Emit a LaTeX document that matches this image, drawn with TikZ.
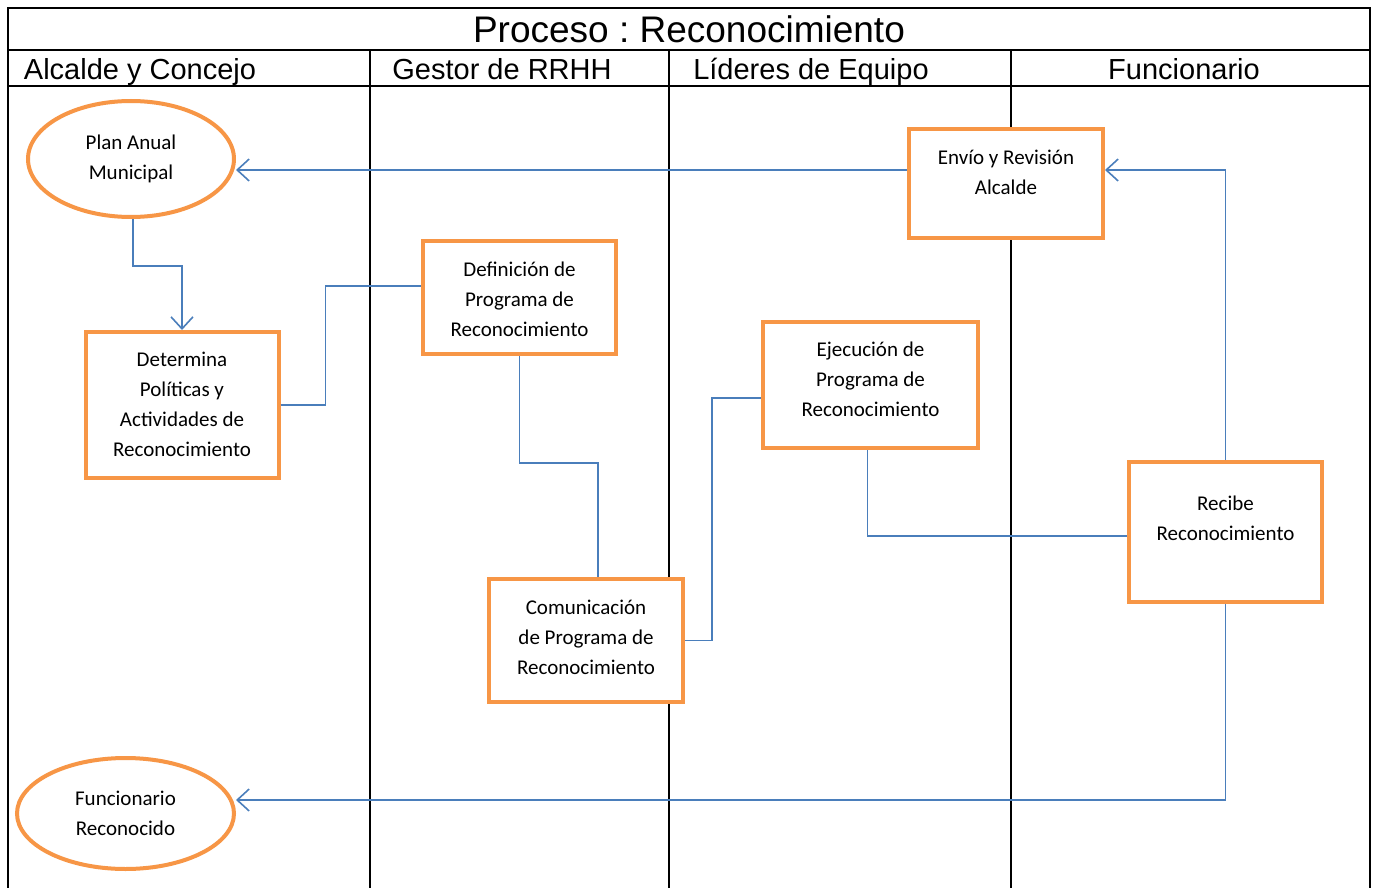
\documentclass[tikz,border=0pt]{standalone}
\usepackage{fontspec}
\setmainfont{Carlito}
\newfontfamily\arialf{Liberation Sans}
\usetikzlibrary{shapes.geometric,arrows.meta}
\definecolor{orng}{HTML}{F79646}
\definecolor{conncol}{HTML}{4A7EBB}
\tikzset{
  frame/.style={line width=2pt,black},
  box/.style={draw=orng,line width=4pt,rectangle,inner sep=0pt,fill=white},
  oval/.style={draw=orng,line width=4pt,ellipse,inner sep=0pt,fill=white,align=center,font=\fontsize{21}{30}\selectfont},
  txt/.style={align=center,font=\fontsize{21}{30}\selectfont,inner sep=0pt},
  hdr/.style={font=\arialf\fontsize{29}{34}\selectfont,inner sep=0pt,anchor=base},
  conn/.style={draw=conncol,line width=1.6pt},
  arr/.style={-{Straight Barb[length=12pt,width=22pt,line width=1.6pt]}}
}
\begin{document}
\frenchspacing
\begin{tikzpicture}[x=1pt,y=-1pt]
\useasboundingbox (0,0) rectangle (1374,888);
% frame
\draw[frame] (8,888) -- (8,8) -- (1370,8) -- (1370,888);
\draw[frame] (8,50) -- (1370,50);
\draw[frame] (8,86) -- (1370,86);
\draw[frame] (370,50) -- (370,888);
\draw[frame] (669,50) -- (669,888);
\draw[frame] (1011,50) -- (1011,888);
\node[font=\arialf\fontsize{37}{42}\selectfont,inner sep=0pt,anchor=base] (title) at (689,43) {Proceso : Reconocimiento};
\node[hdr] (h1) at (140,80) {Alcalde y Concejo};
\node[hdr] (h2) at (502,80) {Gestor de RRHH};
\node[hdr] (h3) at (811,80) {Líderes de Equipo};
\node[hdr] (h4) at (1184,80) {Funcionario};
% nodes
\node[oval,minimum width=206,minimum height=116] (plan) at (131,159) {Plan Anual\\Municipal};
\node[oval,minimum width=217,minimum height=111] (fun) at (125.5,813.5) {Funcionario\\Reconocido};
\node[box,minimum width=193,minimum height=146] (det) at (182,405) {};
\node[box,minimum width=193,minimum height=113] (def) at (519.5,297.5) {};
\node[box,minimum width=194,minimum height=123] (com) at (586,640.5) {};
\node[box,minimum width=215,minimum height=126] (eje) at (870.5,385) {};
\node[box,minimum width=194,minimum height=109] (env) at (1006,183.5) {};
\node[box,minimum width=193,minimum height=140] (rec) at (1225.5,532) {};
\node[txt] (tdet) at (182,404) {Determina\\Políticas y\\Actividades de\\Reconocimiento};
\node[txt] (tdef) at (519.5,299) {Definición de\\Programa de\\Reconocimiento};
\node[txt] (tcom) at (586,637) {Comunicación\\de Programa de\\Reconocimiento};
\node[txt] (teje) at (870.5,379) {Ejecución de\\Programa de\\Reconocimiento};
\node[txt] (tenv) at (1006,172) {Envío y Revisión\\Alcalde};
\node[txt] (trec) at (1225.5,518) {Recibe\\Reconocimiento};
% connectors
\draw[conn,arr] ([xshift=2pt]plan.south) -- ++(0,47) -| (det.north);
\draw[conn] (det.east) -- ++(45,0) |- ([yshift=11.5pt]def.west);
\draw[conn] (def.south) -- ++(0,107) -| ([xshift=12pt]com.north);
\draw[conn] (com.east) -- ++(27,0) |- ([yshift=-13pt]eje.west);
\draw[conn] ([xshift=-3pt]eje.south) |- ([yshift=-4pt]rec.west);
\draw[conn,arr] (rec.north) |- ([yshift=13.5pt]env.east);
\draw[conn,arr] ([yshift=13.5pt]env.west) -- ([yshift=13.5pt]env.west -| plan.east);
\draw[conn,arr] (rec.south) |- ([yshift=13.5pt]fun.east);
\end{tikzpicture}
\end{document}
